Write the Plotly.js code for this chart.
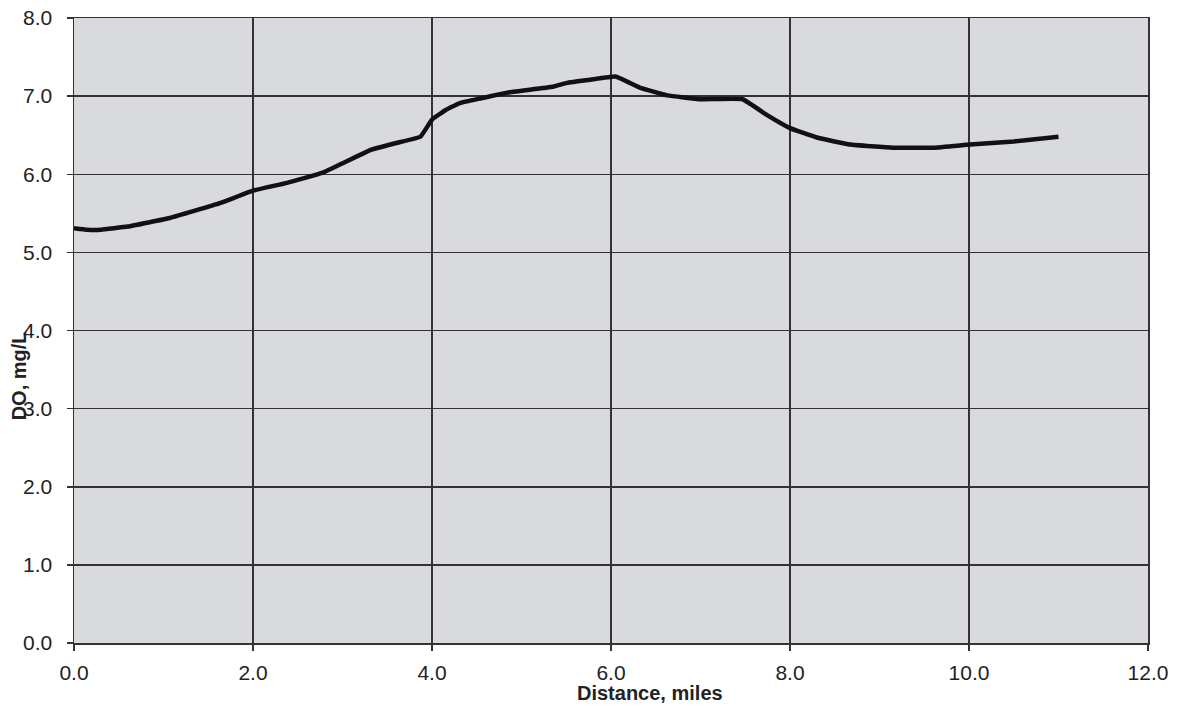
<!DOCTYPE html>
<html>
<head>
<meta charset="utf-8">
<script src="https://cdn.plot.ly/plotly-3.0.1.min.js"></script>
<style>html,body{margin:0;padding:0;background:#fff;}#chart{width:1179px;height:707px;}</style>
</head>
<body>
<div id="chart"></div>
<script>
const distance = [0.0, 0.15, 0.3, 0.6, 1.07, 1.63, 2.0, 2.38, 2.78, 3.0, 3.31, 3.6, 3.87, 4.0, 4.15, 4.31, 4.54, 4.87, 5.35, 5.51, 5.77, 6.05, 6.32, 6.63, 7.0, 7.47, 7.74, 8.0, 8.3, 8.67, 9.15, 9.6, 10.01, 10.5, 11.0];
const doValues = [5.31, 5.29, 5.29, 5.33, 5.44, 5.63, 5.79, 5.89, 6.02, 6.14, 6.31, 6.40, 6.48, 6.70, 6.82, 6.91, 6.97, 7.05, 7.12, 7.17, 7.21, 7.25, 7.11, 7.01, 6.96, 6.96, 6.76, 6.59, 6.47, 6.38, 6.34, 6.34, 6.38, 6.42, 6.48];
const xTickVals = [0, 2, 4, 6, 8, 10, 12];
const xTickText = ["0.0", "2.0", "4.0", "6.0", "8.0", "10.0", "12.0"];
const yTickVals = [0, 1, 2, 3, 4, 5, 6, 7, 8];
const yTickText = ["0.0", "1.0", "2.0", "3.0", "4.0", "5.0", "6.0", "7.0", "8.0"];
const xTitle = "Distance, miles";
const yTitle = "DO, mg/L";

const trace = {
  x: distance, y: doValues, type: "scatter", mode: "lines",
  line: {color: "#111", width: 4.5, shape: "spline", smoothing: 0.3},
  hoverinfo: "skip"
};
const tickFont = {family: "Liberation Sans, Arial, sans-serif", size: 21, color: "#222"};
const layout = {
  width: 1179, height: 707,
  margin: {l: 74, r: 31, t: 18, b: 64},
  paper_bgcolor: "#ffffff",
  plot_bgcolor: "#d9dadd",
  showlegend: false,
  xaxis: {
    range: [0, 12], tickvals: xTickVals, ticktext: xTickText,
    showgrid: true, gridcolor: "#333", gridwidth: 1.5,
    ticks: "outside", ticklen: 6, tickcolor: "#333", tickwidth: 1.5,
    showline: true, linecolor: "#333", linewidth: 1.5, mirror: true,
    zeroline: false, tickfont: tickFont, ticklabelstandoff: 4
  },
  yaxis: {
    range: [0, 8], tickvals: yTickVals, ticktext: yTickText,
    showgrid: true, gridcolor: "#333", gridwidth: 1.5,
    ticks: "outside", ticklen: 6, tickcolor: "#333", tickwidth: 1.5,
    showline: true, linecolor: "#333", linewidth: 1.5, mirror: true,
    zeroline: false, tickfont: tickFont, ticklabelstandoff: 10
  },
  annotations: [
    {text: "<b>" + xTitle + "</b>", xref: "paper", yref: "paper", x: 0.536, y: -0.08,
     xanchor: "center", yanchor: "middle", showarrow: false,
     font: {family: "Liberation Sans, Arial, sans-serif", size: 20, color: "#222"}},
    {text: "<b>" + yTitle + "</b>", xref: "paper", yref: "paper", x: -0.051, y: 0.427,
     xanchor: "center", yanchor: "middle", showarrow: false, textangle: -90,
     font: {family: "Liberation Sans, Arial, sans-serif", size: 20, color: "#222"}}
  ]
};
Plotly.newPlot("chart", [trace], layout, {staticPlot: true, displayModeBar: false});
</script>
</body>
</html>
